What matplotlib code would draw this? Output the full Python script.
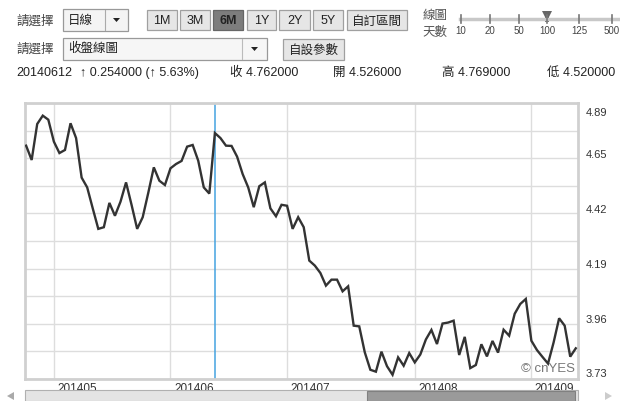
import numpy as np
import matplotlib
matplotlib.use("Agg")
import matplotlib.pyplot as plt
from matplotlib.patches import Rectangle, Polygon
from matplotlib.transforms import blended_transform_factory, offset_copy

plt.rcParams['font.family'] = ['Liberation Sans', 'Noto Sans CJK TC', 'DejaVu Sans']

# daily close (index = trading day)
close = [4.709, 4.649, 4.800, 4.835, 4.818, 4.726, 4.678, 4.691, 4.803, 4.741,
         4.575, 4.534, 4.446, 4.360, 4.367, 4.469, 4.415, 4.474, 4.555, 4.460,
         4.360, 4.409, 4.511, 4.618, 4.562, 4.544, 4.614, 4.632, 4.645, 4.705,
         4.712, 4.646, 4.534, 4.508, 4.762, 4.741, 4.709, 4.708, 4.663, 4.590,
         4.534, 4.451, 4.539, 4.555, 4.446, 4.413, 4.461, 4.457, 4.360, 4.409,
         4.367, 4.227, 4.206, 4.175, 4.122, 4.147, 4.147, 4.098, 4.119, 3.954,
         3.951, 3.842, 3.769, 3.761, 3.845, 3.784, 3.748, 3.821, 3.786, 3.839,
         3.800, 3.833, 3.896, 3.936, 3.877, 3.963, 3.967, 3.975, 3.831, 3.907,
         3.776, 3.789, 3.876, 3.825, 3.890, 3.841, 3.937, 3.912, 4.004, 4.045,
         4.066, 3.891, 3.852, 3.823, 3.795, 3.883, 3.985, 3.954, 3.824, 3.859]
month_idx = [5, 26, 47, 70, 91]
month_labels = ['201405', '201406', '201407', '201408', '201409']
y_labels = [3.73, 3.96, 4.19, 4.42, 4.65, 4.89]
cursor_idx = 34
y_min, y_max = 3.7303, 4.888

W, H = 620, 402
def fx(x): return x / W
def fy(y): return 1 - y / H

fig = plt.figure(figsize=(6.2, 4.02), dpi=100)
fig.patch.set_facecolor('white')

ax = fig.add_axes([fx(25), fy(380), (578 - 25) / W, (380 - 104) / H])
x = np.arange(len(close))
ax.plot(x, close, color='#333333', lw=1.7, solid_joinstyle='miter', zorder=3)
ax.axvline(cursor_idx, color='#45a3e0', lw=1.1, zorder=2)
ax.set_xlim(-0.2, 99.4)
ax.set_ylim(y_min, y_max)
ax.set_yticks(np.linspace(y_min, y_max, 11))
ax.set_xticks(month_idx)
ax.grid(True, color='#dddddd', lw=1)
ax.set_axisbelow(True)
ax.tick_params(length=0, labelleft=False, labelbottom=False)
for s in ax.spines.values():
    s.set_color('#d0d0d0')
    s.set_linewidth(2)

tr = blended_transform_factory(ax.transAxes, ax.transData)
for i, v in enumerate(y_labels):
    va = 'top' if i == len(y_labels) - 1 else 'bottom'
    t = offset_copy(tr, fig=fig, x=0, y=(-3 if va == 'top' else 0.5), units='points')
    ax.text(1.014, v, f'{v:.2f}', transform=t, ha='left', va=va,
            fontsize=8, color='#333333')

trx = blended_transform_factory(ax.transData, ax.transAxes)
trx = offset_copy(trx, fig=fig, x=2.5, y=-2, units='points')
for i, lab in zip(month_idx, month_labels):
    ax.text(i, 0, lab, transform=trx, ha='left', va='top', fontsize=8.5, color='#333333')

ax.text(0.994, 0.04, '© cnYES', transform=ax.transAxes, ha='right', va='center',
        fontsize=9.5, color='#777777', zorder=4)

# scrollbar under the chart
fig.patches.append(Rectangle((fx(25), fy(402)), (578 - 25) / W, 11 / H, transform=fig.transFigure,
                             fc='#e4e4e4', ec='#b0b0b0', lw=0.8))
fig.patches.append(Rectangle((fx(367), fy(402)), (575 - 367) / W, 10 / H, transform=fig.transFigure,
                             fc='#9a9a9a', ec='#808080', lw=0.8))
fig.patches.append(Polygon([(fx(7), fy(397)), (fx(14), fy(393)), (fx(14), fy(401))], closed=True,
                           transform=fig.transFigure, fc='#aaaaaa', ec='none'))
fig.patches.append(Polygon([(fx(612), fy(397)), (fx(605), fy(393)), (fx(605), fy(401))], closed=True,
                           transform=fig.transFigure, fc='#cccccc', ec='none'))


def box(x0, y0, x1, y1, fc, ec='#999999'):
    fig.patches.append(Rectangle((fx(x0), fy(y1)), (x1 - x0) / W, (y1 - y0) / H,
                                 transform=fig.transFigure, fc=fc, ec=ec, lw=0.9))


def button(x0, y0, x1, y1, label, pressed=False):
    box(x0, y0, x1, y1, '#7d7d7d' if pressed else '#e6e6e6', '#666666' if pressed else '#a0a0a0')
    fig.text(fx((x0 + x1) / 2), fy((y0 + y1) / 2 + 0.5), label, ha='center', va='center',
             fontsize=9, color='#222222', fontweight='bold' if pressed else 'normal')


# row 1
fig.text(fx(16), fy(22), '請選擇', ha='left', va='center', fontsize=9, color='#444444')
box(63, 10, 128, 32, '#f4f4f4', '#999999')
fig.lines.append(plt.Line2D([fx(105), fx(105)], [fy(11), fy(31)], transform=fig.transFigure,
                            color='#aaaaaa', lw=0.8))
fig.text(fx(68), fy(21), '日線', ha='left', va='center', fontsize=9, color='#222222')
fig.patches.append(Polygon([(fx(113), fy(19)), (fx(120), fy(19)), (fx(116.5), fy(23))], closed=True,
                           transform=fig.transFigure, fc='#222222', ec='none'))
for bx0, bx1, lab in [(147, 177, '1M'), (180, 210, '3M'), (213, 243, '6M'), (247, 276, '1Y'),
                      (279, 310, '2Y'), (313, 343, '5Y'), (347, 407, '自訂區間')]:
    button(bx0, 11, bx1, 31, lab, pressed=(lab == '6M'))

fig.text(fx(435), fy(16), '線圖', ha='center', va='center', fontsize=9, color='#555555')
fig.text(fx(435), fy(33), '天數', ha='center', va='center', fontsize=9, color='#555555')
fig.lines.append(plt.Line2D([fx(460), fx(620)], [fy(20), fy(20)], transform=fig.transFigure,
                            color='#c8c8c8', lw=2.5))
for sx, lab in zip([461, 490, 519, 547, 579, 612], ['10', '20', '50', '100', '125', '500']):
    fig.lines.append(plt.Line2D([fx(sx), fx(sx)], [fy(16), fy(24)], transform=fig.transFigure,
                                color='#777777', lw=1.2))
    fig.text(fx(sx), fy(31.5), lab, ha='center', va='center', fontsize=7, color='#444444')
fig.patches.append(Polygon([(fx(542), fy(12)), (fx(552), fy(12)), (fx(549), fy(18)), (fx(549), fy(23)),
                            (fx(545), fy(23)), (fx(545), fy(18))], closed=True,
                           transform=fig.transFigure, fc='#666666', ec='none'))

# row 2
fig.text(fx(16), fy(50), '請選擇', ha='left', va='center', fontsize=9, color='#444444')
box(63, 39, 267, 61, '#f6f6f6', '#999999')
fig.lines.append(plt.Line2D([fx(242), fx(242)], [fy(40), fy(60)], transform=fig.transFigure,
                            color='#bbbbbb', lw=0.8))
fig.text(fx(68), fy(49), '收盤線圖', ha='left', va='center', fontsize=9, color='#222222')
fig.patches.append(Polygon([(fx(251), fy(48)), (fx(258), fy(48)), (fx(254.5), fy(52))], closed=True,
                           transform=fig.transFigure, fc='#222222', ec='none'))
button(283, 40, 344, 61, '自設參數')

# row 3
row3 = dict(ha='left', va='center', fontsize=9, color='#222222')
fig.text(fx(16), fy(73), '20140612', **row3)
fig.text(fx(80), fy(73), '↑ 0.254000 (↑ 5.63%)', **row3)
fig.text(fx(230), fy(73), '收 4.762000', **row3)
fig.text(fx(333), fy(73), '開 4.526000', **row3)
fig.text(fx(442), fy(73), '高 4.769000', **row3)
fig.text(fx(547), fy(73), '低 4.520000', **row3)

fig.savefig('out.png', dpi=100)
